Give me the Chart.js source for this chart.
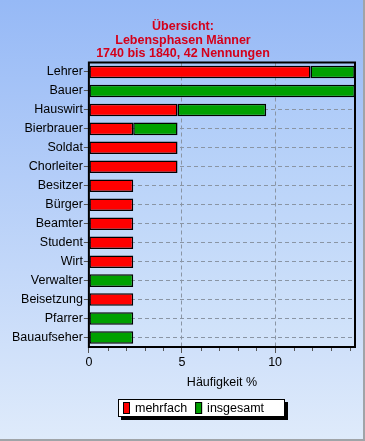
<!DOCTYPE html>
<html>
<head>
<meta charset="utf-8">
<script src="https://cdn.jsdelivr.net/npm/chart.js@4/dist/chart.umd.min.js"></script>
<style>
  html, body { margin: 0; padding: 0; }
  #wrap { width: 365px; height: 441px; }
</style>
</head>
<body>
<div id="wrap"><canvas id="myChart" width="365" height="441"></canvas></div>
<script>
// data (percent of 42 mentions)
let categories = ['Lehrer', 'Bauer', 'Hauswirt', 'Bierbrauer', 'Soldat', 'Chorleiter', 'Besitzer',
    'Bürger', 'Beamter', 'Student', 'Wirt', 'Verwalter', 'Beisetzung', 'Pfarrer', 'Bauaufseher'];
let mehrfach = [11.9, 0, 4.76, 2.38, 4.76, 4.76, 2.38, 2.38, 2.38, 2.38, 2.38, 0, 2.38, 0, 0];
let insgesamt = [2.38, 14.29, 4.76, 2.38, 0, 0, 0, 0, 0, 0, 0, 2.38, 0, 2.38, 2.38];
let seriesNames = ['mehrfach', 'insgesamt'];
let xTicks = [0, 5, 10];
let xMax = 14.29;

let fontFam = '"Liberation Sans", Arial, sans-serif';

// background + frames
let decor = {
    id: 'decor',
    beforeDraw: function(chart) {
        let c = chart.ctx;
        let g = c.createLinearGradient(0, 0, 0, chart.height);
        g.addColorStop(0, '#96b9f6');
        g.addColorStop(1, '#dfebfb');
        c.save();
        c.fillStyle = g;
        c.fillRect(0, 0, chart.width, chart.height);
        let a = chart.chartArea;
        let g2 = c.createLinearGradient(0, a.top, 0, a.bottom);
        g2.addColorStop(0, '#a9c8f8');
        g2.addColorStop(1, '#d3e4fa');
        c.fillStyle = g2;
        c.fillRect(a.left, a.top, a.right - a.left, a.bottom - a.top);
        c.restore();
    },
    afterDraw: function(chart) {
        let c = chart.ctx;
        let a = chart.chartArea;
        let x = chart.scales.x;
        c.save();
        // minor ticks
        c.strokeStyle = '#555';
        c.lineWidth = 1;
        for (let v = 1; v < xMax; v++) {
            if (xTicks.indexOf(v) >= 0) continue;
            let px = Math.round(x.getPixelForValue(v)) + 0.5;
            c.beginPath();
            c.moveTo(px, a.bottom);
            c.lineTo(px, a.bottom + 4);
            c.stroke();
        }
        // plot frame
        c.strokeStyle = '#000';
        c.lineWidth = 2;
        c.strokeRect(a.left, a.top, a.right - a.left, a.bottom - a.top);
        // outer frame
        c.strokeStyle = '#a0a4a8';
        c.lineWidth = 2;
        c.beginPath();
        c.moveTo(chart.width - 1, 0);
        c.lineTo(chart.width - 1, chart.height - 1);
        c.lineTo(0, chart.height - 1);
        c.stroke();
        // legend
        let colors = chart.data.datasets.map(d => d.backgroundColor);
        c.font = '12.5px ' + fontFam;
        let bx = 118, by = 399, bw = 167, bh = 18;
        c.fillStyle = '#000';
        c.fillRect(bx + 3, by + 3, bw, bh);
        c.fillStyle = '#fff';
        c.fillRect(bx, by, bw, bh);
        c.strokeStyle = '#000';
        c.lineWidth = 1;
        c.strokeRect(bx + 0.5, by + 0.5, bw - 1, bh - 1);
        let lx = bx + 5;
        c.textBaseline = 'middle';
        seriesNames.forEach(function(name, i) {
            c.fillStyle = colors[i];
            c.fillRect(lx, by + 3, 7, 12);
            c.strokeRect(lx + 0.5, by + 3.5, 6, 11);
            c.fillStyle = '#000';
            c.fillText(name, lx + 12, by + bh / 2 + 1);
            lx += 12 + c.measureText(name).width + 8;
        });
        c.restore();
    }
};

let ctx = document.getElementById('myChart').getContext('2d');
let chart = new Chart(ctx, {
    type: 'bar',
    data: {
        labels: categories,
        datasets: [{
            label: seriesNames[0],
            data: mehrfach,
            backgroundColor: '#ff0000',
            borderColor: '#000',
            borderWidth: 1.5,
            borderSkipped: false
        }, {
            label: seriesNames[1],
            data: insgesamt,
            backgroundColor: '#00a000',
            borderColor: '#000',
            borderWidth: 1.5,
            borderSkipped: false
        }]
    },
    options: {
        indexAxis: 'y',
        responsive: false,
        animation: false,
        events: [],
        layout: { padding: { left: 11, right: 10, top: 0, bottom: 51 } },
        datasets: { bar: { barPercentage: 0.66, categoryPercentage: 1 } },
        plugins: {
            legend: { display: false },
            tooltip: { enabled: false },
            title: {
                display: true,
                text: ['Übersicht:', 'Lebensphasen Männer', '1740 bis 1840, 42 Nennungen'],
                color: '#d4001a',
                font: { family: fontFam, size: 12.5, weight: 'bold', lineHeight: 1.08 },
                padding: { top: 20, bottom: 2 }
            }
        },
        scales: {
            x: {
                stacked: true,
                min: 0,
                max: xMax,
                afterBuildTicks: function(axis) {
                    axis.ticks = xTicks.map(v => ({ value: v }));
                },
                ticks: { color: '#000', font: { family: fontFam, size: 12.5 }, padding: 2 },
                grid: {
                    color: '#8a95a4',
                    tickBorderDash: [],
                    tickColor: '#555',
                    tickLength: 6
                },
                border: { display: false, dash: [4, 3] },
                title: {
                    display: true,
                    text: 'Häufigkeit %',
                    color: '#000',
                    font: { family: fontFam, size: 12.5 },
                    padding: { top: 3, bottom: 0 }
                }
            },
            y: {
                stacked: true,
                ticks: { color: '#000', font: { family: fontFam, size: 12.5 }, padding: 1, autoSkip: false },
                grid: {
                    offset: false,
                    color: '#8a95a4',
                    tickBorderDash: [],
                    tickColor: '#555',
                    tickLength: 5
                },
                border: { display: false, dash: [4, 3] }
            }
        }
    },
    plugins: [decor]
});
</script>
</body>
</html>
